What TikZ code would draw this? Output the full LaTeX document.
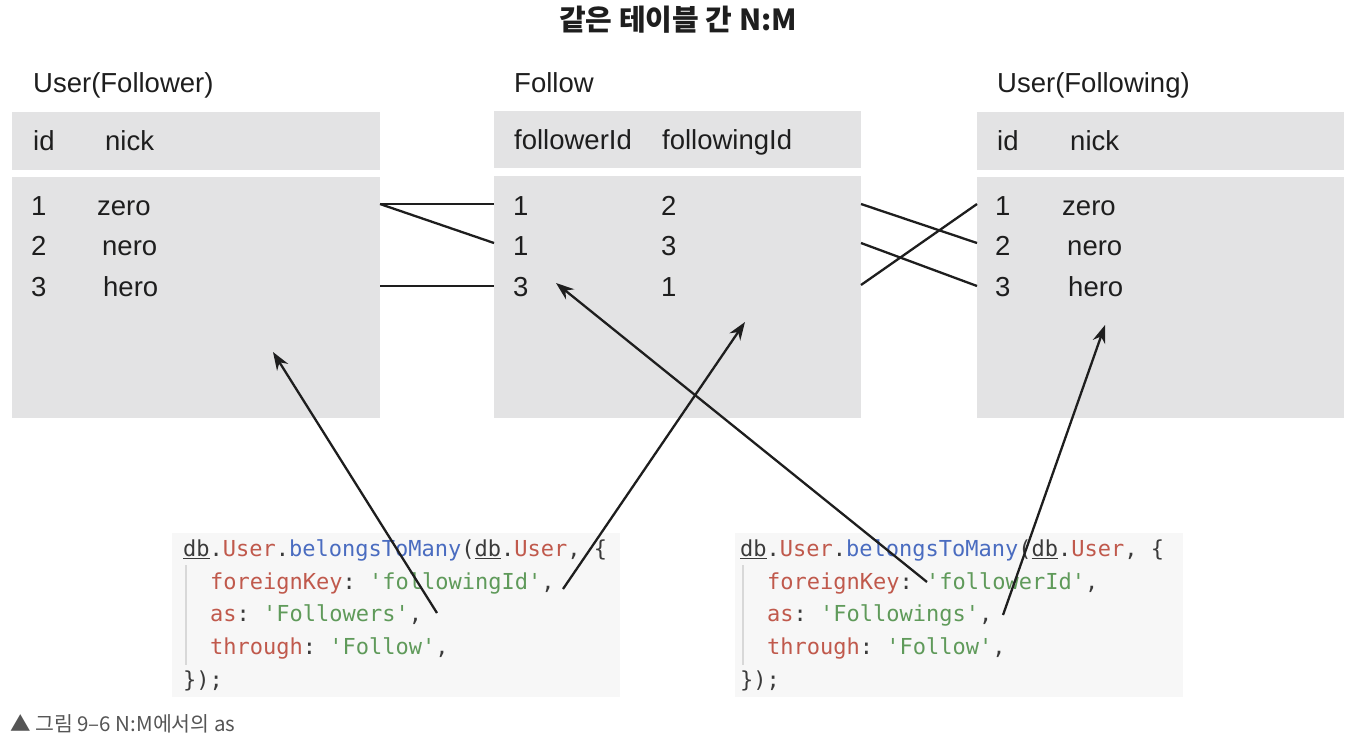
\documentclass[tikz,border=0pt]{standalone}
\usepackage{fontspec}
\setmainfont{Liberation Sans}
\newfontfamily\krfont{Noto Sans CJK KR}
\newfontfamily\codefont{DejaVu Sans Mono}
\usetikzlibrary{arrows.meta}
\definecolor{tablegray}{HTML}{E3E3E4}
\definecolor{codebg}{HTML}{F7F7F7}
\definecolor{kw}{HTML}{C0594C}
\definecolor{fn}{HTML}{4A6CC0}
\definecolor{str}{HTML}{5F9A5A}
\definecolor{pun}{HTML}{3A3A3A}
\definecolor{guide}{HTML}{D8D8D8}
\definecolor{capgray}{HTML}{555555}
\definecolor{ink}{HTML}{1E1E1E}
\newcommand\sq{\textquotesingle}
\begin{document}
\begin{tikzpicture}[x=1pt,y=-1pt,
  lbl/.style={anchor=base west, inner sep=0pt, font=\fontsize{27.5}{30}\selectfont, text=ink},
  codetxt/.style={anchor=base west, inner sep=0pt, font=\codefont\fontsize{22}{26}\selectfont\frenchspacing, text=pun},
  tbl/.style={fill=tablegray},
  codebox/.style={fill=codebg},
  link/.style={line width=2.3pt, draw=ink},
  pointer/.style={line width=2.3pt, draw=ink, -{Stealth[length=18pt,width=13pt]}},
]
\useasboundingbox[fill=white] (0,0) rectangle (1360,740);

% title
\node[font=\krfont\bfseries\fontsize{29}{32}\selectfont, text=ink] (title) at (678,20) {같은 테이블 간 N:M};

% tables
\path[tbl] (12,112) rectangle (380,170);
\path[tbl] (12,177) rectangle (380,418);
\path[tbl] (494,111) rectangle (861,168);
\path[tbl] (494,176) rectangle (861,418);
\path[tbl] (977,112) rectangle (1344,170);
\path[tbl] (977,177) rectangle (1344,418);

% table titles
\node[lbl] (tL) at (33,92) {User(Follower)};
\node[lbl] (tM) at (514,92) {Follow};
\node[lbl] (tR) at (997,92) {User(Following)};

% headers
\node[lbl] (hL1) at (33,150) {id};
\node[lbl] (hL2) at (105,150) {nick};
\node[lbl] (hM1) at (514,149) {followerId};
\node[lbl] (hM2) at (662,149) {followingId};
\node[lbl] (hR1) at (997,150) {id};
\node[lbl] (hR2) at (1070,150) {nick};

% left rows
\node[lbl] (l1a) at (31,215) {1};
\node[lbl] (l1b) at (97,215) {zero};
\node[lbl] (l2a) at (31,255) {2};
\node[lbl] (l2b) at (102,255) {nero};
\node[lbl] (l3a) at (31,296) {3};
\node[lbl] (l3b) at (103,296) {hero};
% middle rows
\node[lbl] (m1a) at (513,215) {1};
\node[lbl] (m1b) at (661,215) {2};
\node[lbl] (m2a) at (513,255) {1};
\node[lbl] (m2b) at (661,255) {3};
\node[lbl] (m3a) at (513,296) {3};
\node[lbl] (m3b) at (661,296) {1};
% right rows
\node[lbl] (r1a) at (995,215) {1};
\node[lbl] (r1b) at (1062,215) {zero};
\node[lbl] (r2a) at (995,255) {2};
\node[lbl] (r2b) at (1067,255) {nero};
\node[lbl] (r3a) at (995,296) {3};
\node[lbl] (r3b) at (1068,296) {hero};

% link anchors
\coordinate (L1) at (380,204);
\coordinate (L3) at (380,286);
\coordinate (M1in) at (494,204);
\coordinate (M2in) at (494,243);
\coordinate (M3in) at (494,286);
\coordinate (M1out) at (861,204);
\coordinate (M2out) at (861,243);
\coordinate (M3out) at (861,285);
\coordinate (R1) at (977,204);
\coordinate (R2) at (977,243);
\coordinate (R3) at (977,286);

\draw[link] (L1) -- (M1in);
\draw[link] (L1) -- (M2in);
\draw[link] (L3) -- (M3in);
\draw[link] (M1out) -- (R2);
\draw[link] (M2out) -- (R3);
\draw[link] (M3out) -- (R1);

% code boxes
\path[codebox] (172,533) rectangle (620,697);
\path[codebox] (735,533) rectangle (1183,697);
\draw[guide, line width=1.5pt] (186,565) -- (186,665);
\draw[guide, line width=1.5pt] (743,565) -- (743,665);

% left code
\node[codetxt] (cl1) at (183,556) {\underline{db}.\textcolor{kw}{User}.\textcolor{fn}{belongsToMany}(\underline{db}.\textcolor{kw}{User}, \{};
\node[codetxt] (cl2) at (210,589) {\textcolor{kw}{foreignKey}: \textcolor{str}{\sq followingId\sq},};
\node[codetxt] (cl3) at (210,621) {\textcolor{kw}{as}: \textcolor{str}{\sq Followers\sq},};
\node[codetxt] (cl4) at (210,654) {\textcolor{kw}{through}: \textcolor{str}{\sq Follow\sq},};
\node[codetxt] (cl5) at (183,687) {\});};

% right code
\node[codetxt] (cr1) at (740,556) {\underline{db}.\textcolor{kw}{User}.\textcolor{fn}{belongsToMany}(\underline{db}.\textcolor{kw}{User}, \{};
\node[codetxt] (cr2) at (767,589) {\textcolor{kw}{foreignKey}: \textcolor{str}{\sq followerId\sq},};
\node[codetxt] (cr3) at (767,621) {\textcolor{kw}{as}: \textcolor{str}{\sq Followings\sq},};
\node[codetxt] (cr4) at (767,654) {\textcolor{kw}{through}: \textcolor{str}{\sq Follow\sq},};
\node[codetxt] (cr5) at (740,687) {\});};

% pointer arrows
\coordinate (p1s) at (437,613);
\coordinate (p1e) at (273,352);
\coordinate (p2s) at (563,589);
\coordinate (p2e) at (745,322);
\coordinate (p3s) at (927,582);
\coordinate (p3e) at (556,283);
\coordinate (p4s) at (1003,615);
\coordinate (p4e) at (1105,325);
\draw[pointer] (p1s) -- (p1e);
\draw[pointer] (p2s) -- (p2e);
\draw[pointer] (p3s) -- (p3e);
\draw[pointer] (p4s) -- (p4e);

% caption
\node[anchor=base west, inner sep=0pt, font=\krfont\fontsize{20.5}{24}\selectfont, text=capgray] (caption) at (10,731) {▲ 그림 9–6 N:M에서의 as};
\end{tikzpicture}
\end{document}
